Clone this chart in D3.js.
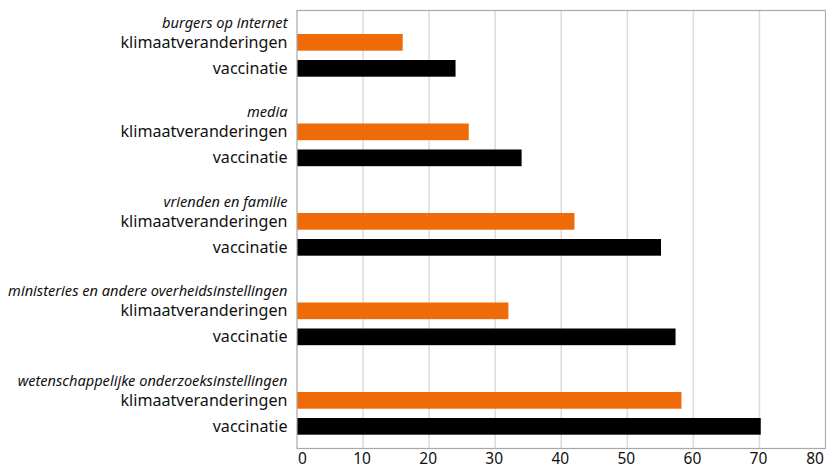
<!DOCTYPE html>
<html><head><meta charset="utf-8">
<script src="https://cdn.jsdelivr.net/npm/d3@7"></script>
<style>html,body{margin:0;padding:0;background:#fff;}svg{display:block;}</style>
</head><body>
<svg id="chart" width="826" height="468"></svg>
<script>
const groups = ["burgers op internet","media","vrienden en familie","ministeries en andere overheidsinstellingen","wetenschappelijke onderzoeksinstellingen"];
const series = ["klimaatveranderingen","vaccinatie"];
const klimaat = [16,26,42,32,58.2];
const vaccinatie = [24,34,55.1,57.3,70.2];
const xTicks = [0,10,20,30,40,50,60,70,80];
const colors = ["#ee6b07","#000000"];

const W = 826, H = 468;
const plot = {left: 297, right: 825.5, top: 10.5, bottom: 448.5};
const labelX = 287.5;
const font = "'Noto Sans', sans-serif";

const svg = d3.select("#chart");
const x = d3.scaleLinear().domain([0,80]).range([plot.left, plot.right]);
const yGroup = d3.scaleBand().domain(groups).range([10, 10 + 89.5*groups.length]);
const yInner = d3.scaleBand().domain(series).range([24, 24 + 26*(2-0.358)]).paddingInner(0.358).paddingOuter(0);

// gridlines
svg.append("g").selectAll("line").data(xTicks.slice(1,-1)).join("line")
  .attr("x1", d=>x(d)).attr("x2", d=>x(d))
  .attr("y1", plot.top).attr("y2", plot.bottom)
  .attr("stroke", "#dcdcdc").attr("stroke-width", 1.5);

// bars
const rows = [];
groups.forEach((g,i)=>{
  rows.push({group:g, series:series[0], value:klimaat[i], color:colors[0]});
  rows.push({group:g, series:series[1], value:vaccinatie[i], color:colors[1]});
});
svg.append("g").selectAll("rect").data(rows).join("rect")
  .attr("x", x(0))
  .attr("y", d=>yGroup(d.group)+yInner(d.series))
  .attr("width", d=>x(d.value)-x(0))
  .attr("height", yInner.bandwidth())
  .attr("fill", d=>d.color);

// frame
svg.append("rect")
  .attr("x", plot.left).attr("y", plot.top)
  .attr("width", plot.right-plot.left).attr("height", plot.bottom-plot.top)
  .attr("fill","none").attr("stroke","#a8a8a8").attr("stroke-width",1.2);

// group headers
svg.append("g").selectAll("text").data(groups).join("text")
  .attr("x", labelX).attr("y", d=>yGroup(d)+17.5)
  .attr("text-anchor","end")
  .attr("font-family", font).attr("font-style","italic").attr("font-size",14.6)
  .attr("fill","#111")
  .text(d=>d);

// row labels
svg.append("g").selectAll("text").data(rows).join("text")
  .attr("x", labelX).attr("y", d=>yGroup(d.group)+yInner(d.series)+yInner.bandwidth()/2+5.6)
  .attr("text-anchor","end")
  .attr("font-family", font).attr("font-size",16.1)
  .attr("fill","#111")
  .text(d=>d.series);

// x tick labels
const xAxis = d3.axisBottom(x).tickValues(xTicks).tickSize(0).tickPadding(0).tickFormat(d3.format("d"));
const ax = svg.append("g").attr("transform",`translate(0,${plot.bottom})`).call(xAxis);
ax.select(".domain").remove();
ax.selectAll("text")
  .attr("font-family", font).attr("font-size",15.5).attr("fill","#111")
  .attr("dy", null).attr("y", 15.5)
  .attr("dx", d=> d===0 ? 5 : (d===80 ? -11 : -1.5));
</script>
</body></html>
